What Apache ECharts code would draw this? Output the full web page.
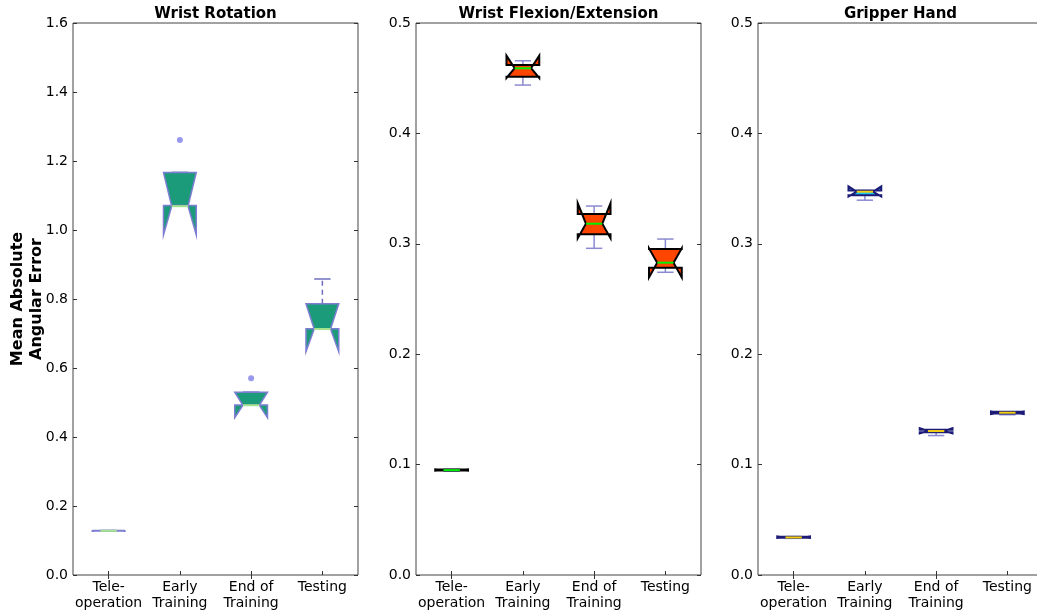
<!DOCTYPE html>
<html>
<head>
<meta charset="utf-8">
<script src="https://cdn.jsdelivr.net/npm/echarts@6/dist/echarts.min.js"></script>
<style>html,body{margin:0;padding:0;background:#fff}#chart{width:1037px;height:611px}</style>
</head>
<body>
<div id="chart"></div>
<script>
const categories = ['Tele-\noperation', 'Early\nTraining', 'End of\nTraining', 'Testing'];
const panelTitles = ['Wrist Rotation', 'Wrist Flexion/Extension', 'Gripper Hand'];
const yLabel = 'Mean Absolute\nAngular Error';

// Wrist Rotation
const rotWhiskerLow  = [0.1270, 1.071, 0.493, 0.714];
const rotQ1          = [0.1275, 1.071, 0.493, 0.714];
const rotMedian      = [0.1280, 1.069, 0.492, 0.713];
const rotQ3          = [0.1288, 1.167, 0.530, 0.786];
const rotWhiskerHigh = [0.1290, 1.167, 0.530, 0.858];
const rotNotchLow    = [0.1272, 0.986, 0.456, 0.647];
const rotNotchHigh   = [0.1288, 1.167, 0.530, 0.786];
const rotOutliers    = [[1, 1.261], [2, 0.570]];

// Wrist Flexion/Extension
const flexWhiskerLow  = [0.0940, 0.4438, 0.2959, 0.2742];
const flexQ1          = [0.0946, 0.4514, 0.3086, 0.2783];
const flexMedian      = [0.0950, 0.4590, 0.3182, 0.2829];
const flexQ3          = [0.0955, 0.4620, 0.3270, 0.2953];
const flexWhiskerHigh = [0.0958, 0.4658, 0.3342, 0.3043];
const flexNotchLow    = [0.0944, 0.4502, 0.3050, 0.2695];
const flexNotchHigh   = [0.0957, 0.4704, 0.3367, 0.2960];

// Gripper Hand
const gripWhiskerLow  = [0.0332, 0.3395, 0.1263, 0.1452];
const gripQ1          = [0.0337, 0.3440, 0.1292, 0.1462];
const gripMedian      = [0.0340, 0.3472, 0.1304, 0.1470];
const gripQ3          = [0.0346, 0.3482, 0.1315, 0.1478];
const gripWhiskerHigh = [0.0348, 0.3482, 0.1315, 0.1478];
const gripNotchLow    = [0.0335, 0.3428, 0.1282, 0.1458];
const gripNotchHigh   = [0.0350, 0.3520, 0.1330, 0.1482];

const rotTicks = { min: 0, max: 1.6, interval: 0.2 };
const flexTicks = { min: 0, max: 0.5, interval: 0.1 };
const gripTicks = { min: 0, max: 0.5, interval: 0.1 };

const FONT = 'DejaVu Sans';

function buildRows(wl, q1, med, q3, wh, nl, nh) {
  return categories.map((c, i) => [i, wl[i], q1[i], med[i], q3[i], wh[i], nl[i], nh[i]]);
}

const panels = [
  { rows: buildRows(rotWhiskerLow, rotQ1, rotMedian, rotQ3, rotWhiskerHigh, rotNotchLow, rotNotchHigh),
    ticks: rotTicks, fill: '#1b9b79', edge: '#7d7dd2', median: '#a6e38f', whisker: '#6e6ebf', dashed: true, edgeW: 1.5,
    outliers: rotOutliers, outlierColor: '#7f7fe6' },
  { rows: buildRows(flexWhiskerLow, flexQ1, flexMedian, flexQ3, flexWhiskerHigh, flexNotchLow, flexNotchHigh),
    ticks: flexTicks, fill: '#ff4500', edge: '#000000', median: '#00ee00', whisker: '#8a8ad0', dashed: false, edgeW: 2,
    outliers: [], outlierColor: '#7f7fe6' },
  { rows: buildRows(gripWhiskerLow, gripQ1, gripMedian, gripQ3, gripWhiskerHigh, gripNotchLow, gripNotchHigh),
    ticks: gripTicks, fill: '#1ec3ee', edge: '#1c1c78', median: '#f2cf10', whisker: '#8a8ad0', dashed: false, edgeW: 2,
    outliers: [], outlierColor: '#7f7fe6' }
];

const gridLefts = [73, 416, 758];
const gridW = 285, gridTop = 23, gridH = 552;
const BOXW = 0.46;

const option = {
  animation: false,
  backgroundColor: '#ffffff',
  textStyle: { fontFamily: FONT },
  title: [], grid: [], xAxis: [], yAxis: [], series: []
};

panels.forEach((p, k) => {
  option.title.push({
    text: panelTitles[k], left: gridLefts[k] + gridW / 2, top: 7, textAlign: 'center', padding: 0,
    textStyle: { fontFamily: FONT, fontWeight: 'bold', fontSize: 15, color: '#000' }
  });
  option.grid.push({
    left: gridLefts[k], top: gridTop, width: gridW, height: gridH,
    outerBoundsMode: 'none', containLabel: false,
    show: true, borderColor: '#444', borderWidth: 1, backgroundColor: '#fff'
  });
  option.xAxis.push({
    type: 'category', gridIndex: k, data: categories, position: 'bottom',
    axisLine: { show: false },
    axisTick: { show: true, inside: true, alignWithLabel: true, length: 4, lineStyle: { color: '#333' } },
    axisLabel: { fontFamily: FONT, fontSize: 14, color: '#000', lineHeight: 16, margin: 4, interval: 0 },
    splitLine: { show: false }
  });
  option.xAxis.push({
    type: 'category', gridIndex: k, data: categories, position: 'top',
    axisLine: { show: false },
    axisTick: { show: true, inside: true, alignWithLabel: true, length: 4, lineStyle: { color: '#333' } },
    axisLabel: { show: false }, splitLine: { show: false }
  });
  const yBase = {
    type: 'value', gridIndex: k, min: p.ticks.min, max: p.ticks.max, interval: p.ticks.interval,
    axisLine: { show: false }, splitLine: { show: false },
    axisTick: { show: true, inside: true, length: 4, lineStyle: { color: '#333' } }
  };
  option.yAxis.push(Object.assign({}, yBase, {
    position: 'left',
    axisLabel: { fontFamily: FONT, fontSize: 14, color: '#000', margin: 5, formatter: v => v.toFixed(1) },
    name: k === 0 ? yLabel : '', nameLocation: 'middle', nameGap: 27, nameRotate: 90, nameMoveOverlap: false,
    nameTextStyle: { fontFamily: FONT, fontWeight: 'bold', fontSize: 16, color: '#000', lineHeight: 19 }
  }));
  option.yAxis.push(Object.assign({}, yBase, { position: 'right', axisLabel: { show: false } }));

  const xi = k * 2, yi = k * 2;
  option.series.push({
    type: 'custom', xAxisIndex: xi, yAxisIndex: yi, data: p.rows, clip: false,
    encode: { x: 0, y: [1, 2, 3, 4, 5, 6, 7] },
    renderItem: function (params, api) {
      const c = api.value(0);
      const band = api.size([1, 0])[0];
      const half = band * BOXW / 2;
      const cx = api.coord([c, 0])[0];
      const Y = v => api.coord([c, v])[1];
      const wl = Y(api.value(1)), q1 = Y(api.value(2)), med = Y(api.value(3));
      const q3 = Y(api.value(4)), wh = Y(api.value(5)), nl = Y(api.value(6)), nh = Y(api.value(7));
      const L = cx - half, R = cx + half, cl = cx - half / 2, cr = cx + half / 2;
      const wStyle = { stroke: p.whisker, lineWidth: 1.5, lineDash: p.dashed ? [5, 4] : null, fill: null };
      const capStyle = { stroke: p.whisker, lineWidth: 1.5, fill: null };
      const children = [
        { type: 'line', shape: { x1: cx, y1: q1, x2: cx, y2: wl }, style: wStyle },
        { type: 'line', shape: { x1: cx, y1: q3, x2: cx, y2: wh }, style: wStyle },
        { type: 'line', shape: { x1: cl, y1: wl, x2: cr, y2: wl }, style: capStyle },
        { type: 'line', shape: { x1: cl, y1: wh, x2: cr, y2: wh }, style: capStyle },
        { type: 'polygon',
          shape: { points: [[L, q1], [L, nl], [cl, med], [L, nh], [L, q3], [R, q3], [R, nh], [cr, med], [R, nl], [R, q1]] },
          style: { fill: p.fill, stroke: p.edge, lineWidth: p.edgeW, lineJoin: 'miter' } },
        { type: 'line', shape: { x1: cl, y1: med, x2: cr, y2: med }, style: { stroke: p.median, lineWidth: 2 } }
      ];
      return { type: 'group', children: children };
    }
  });
  if (p.outliers.length) {
    option.series.push({
      type: 'scatter', xAxisIndex: xi, yAxisIndex: yi, data: p.outliers,
      symbol: 'circle', symbolSize: 6, itemStyle: { color: p.outlierColor }
    });
  }
});

const chart = echarts.init(document.getElementById('chart'), null, { renderer: 'canvas' });
chart.setOption(option);
</script>
</body>
</html>
